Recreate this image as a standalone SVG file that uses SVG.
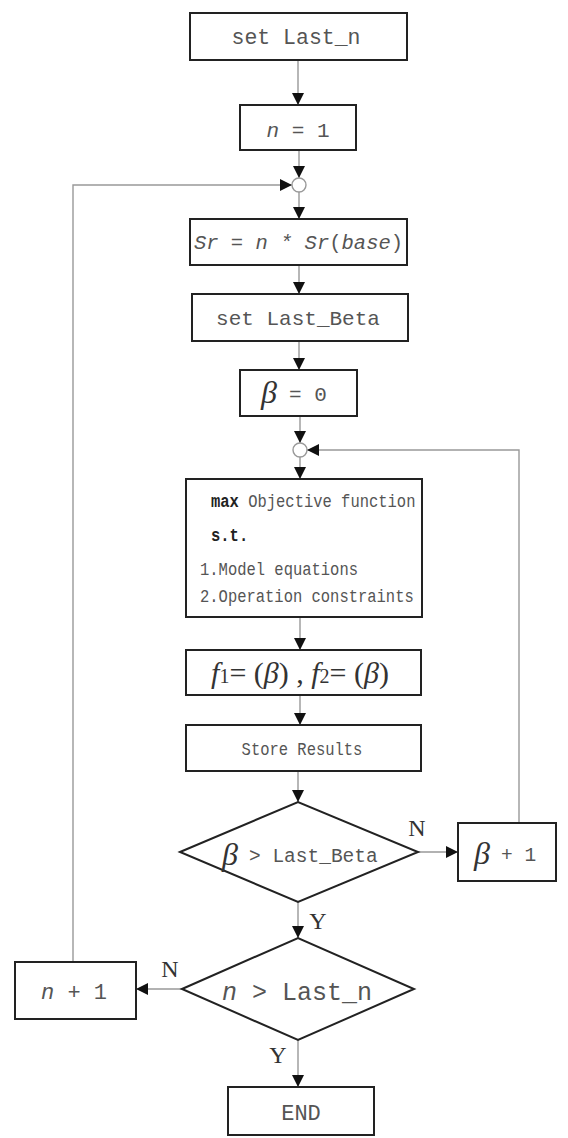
<svg xmlns="http://www.w3.org/2000/svg" width="568" height="1138" viewBox="0 0 568 1138">
<style>
.box{fill:#fff;stroke:#222;stroke-width:2}
.dia{fill:#fff;stroke:#222;stroke-width:2}
.con{fill:none;stroke:#999;stroke-width:1.4}
.jn{fill:#fff;stroke:#999;stroke-width:1.4}
.mono{font-family:"Liberation Mono",monospace;fill:#555}
.ser{font-family:"Liberation Serif",serif;fill:#333}
.it{font-style:italic}
.b{font-weight:bold;fill:#222}
</style>
<defs>
<marker id="ah" markerWidth="12" markerHeight="12" refX="12" refY="6" orient="auto" markerUnits="userSpaceOnUse">
<path d="M0,0 L12,6 L0,12 Z" fill="#111"/>
</marker>
</defs>
<g id="connectors">
<line class="con" x1="298" y1="60" x2="298" y2="105" marker-end="url(#ah)"/>
<line class="con" x1="299" y1="150" x2="299" y2="178" marker-end="url(#ah)"/>
<line class="con" x1="299" y1="192" x2="299" y2="219" marker-end="url(#ah)"/>
<polyline class="con" points="73,962 73,185 292,185" marker-end="url(#ah)"/>
<line class="con" x1="299" y1="265" x2="299" y2="294" marker-end="url(#ah)"/>
<line class="con" x1="299" y1="341" x2="299" y2="370" marker-end="url(#ah)"/>
<line class="con" x1="300" y1="416" x2="300" y2="443" marker-end="url(#ah)"/>
<polyline class="con" points="519,823 519,450 307,450" marker-end="url(#ah)"/>
<line class="con" x1="300" y1="457" x2="300" y2="479" marker-end="url(#ah)"/>
<line class="con" x1="300" y1="617" x2="300" y2="650" marker-end="url(#ah)"/>
<line class="con" x1="300" y1="695" x2="300" y2="725" marker-end="url(#ah)"/>
<line class="con" x1="298" y1="771" x2="298" y2="802" marker-end="url(#ah)"/>
<line class="con" x1="418" y1="852" x2="458" y2="852" marker-end="url(#ah)"/>
<line class="con" x1="298" y1="902" x2="298" y2="938" marker-end="url(#ah)"/>
<line class="con" x1="182" y1="989" x2="136" y2="989" marker-end="url(#ah)"/>
<line class="con" x1="298" y1="1040" x2="298" y2="1087" marker-end="url(#ah)"/>
<circle class="jn" cx="299" cy="185" r="7"/>
<circle class="jn" cx="300" cy="450" r="7"/>
<text class="ser" x="417" y="836" font-size="24" text-anchor="middle">N</text>
<text class="ser" x="318" y="929" font-size="24" text-anchor="middle">Y</text>
<text class="ser" x="170" y="977" font-size="24" text-anchor="middle">N</text>
<text class="ser" x="278" y="1063" font-size="24" text-anchor="middle">Y</text>
</g>
<g id="set-last-n">
<rect class="box" x="190" y="13" width="217" height="47"/>
<text class="mono" x="296" y="44" font-size="21.5" text-anchor="middle">set Last_n</text>
</g>
<g id="n-eq-1">
<rect class="box" x="240" y="105" width="116" height="45"/>
<text class="mono" x="298" y="137" font-size="21" text-anchor="middle"><tspan class="it">n</tspan> = 1</text>
</g>
<g id="sr">
<rect class="box" x="190" y="219" width="217" height="46"/>
<text class="mono it" x="298.5" y="249" font-size="20.5" text-anchor="middle">Sr = n * Sr<tspan font-style="normal">(</tspan>base<tspan font-style="normal">)</tspan></text>
</g>
<g id="set-last-beta">
<rect class="box" x="192" y="294" width="216" height="47"/>
<text class="mono" x="298" y="325" font-size="21" text-anchor="middle">set Last_Beta</text>
</g>
<g id="beta-eq-0">
<rect class="box" x="240" y="370" width="117" height="46"/>
<text x="261" y="403" font-size="32" class="ser it">β</text>
<text class="mono" x="289" y="401" font-size="21">= 0</text>
</g>
<g id="optimize">
<rect class="box" x="186" y="479" width="236" height="138"/>
<text class="mono" transform="translate(211,507) scale(1,1.15)" font-size="15.5"><tspan class="b">max</tspan> Objective function</text>
<text class="mono b" transform="translate(211,541) scale(1,1.15)" font-size="15.5">s.t.</text>
<text class="mono" transform="translate(200,575) scale(1,1.15)" font-size="15.5">1.Model equations</text>
<text class="mono" transform="translate(200,602) scale(1,1.15)" font-size="15.5">2.Operation constraints</text>
</g>
<g id="f-box">
<rect class="box" x="186" y="650" width="235" height="45"/>
<text class="ser" x="300" y="683" font-size="30" text-anchor="middle"><tspan class="it">f</tspan><tspan font-size="20">1</tspan>= (<tspan class="it">β</tspan>)  , <tspan class="it">f</tspan><tspan font-size="20">2</tspan>= (<tspan class="it">β</tspan>)</text>
</g>
<g id="store-results">
<rect class="box" x="186" y="725" width="235" height="46"/>
<text class="mono" transform="translate(302,755) scale(1,1.15)" font-size="15.5" text-anchor="middle">Store Results</text>
</g>
<g id="beta-decision">
<polygon class="dia" points="180,852 298,802 418,852 298,902"/>
<text class="ser it" x="222" y="865" font-size="32">β</text>
<text class="mono" x="249" y="862" font-size="19.5">&gt; Last_Beta</text>
</g>
<g id="beta-plus-1">
<rect class="box" x="458" y="823" width="98" height="58"/>
<text class="ser it" x="474" y="864" font-size="32">β</text>
<text class="mono" x="501" y="861" font-size="19.5">+ 1</text>
</g>
<g id="n-decision">
<polygon class="dia" points="182,989 298,938 414,989 298,1040"/>
<text class="mono" x="297" y="1000" font-size="25" text-anchor="middle"><tspan class="it">n</tspan> &gt; Last_n</text>
</g>
<g id="n-plus-1">
<rect class="box" x="15" y="962" width="121" height="57"/>
<text class="mono" x="74" y="999" font-size="22" text-anchor="middle"><tspan class="it">n</tspan> + 1</text>
</g>
<g id="end">
<rect class="box" x="228" y="1087" width="146" height="48"/>
<text class="mono" x="301" y="1120" font-size="22" text-anchor="middle">END</text>
</g>
</svg>
